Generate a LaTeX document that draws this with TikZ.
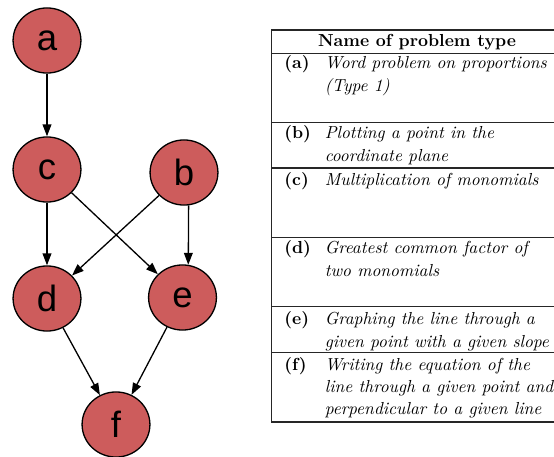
\documentclass[tikz,border=0pt]{standalone}
\usepackage{fontspec}
\newfontfamily\nodefont{Liberation Sans}
\usetikzlibrary{shapes.geometric,arrows.meta}
\definecolor{nodered}{RGB}{205,92,92}
\begin{document}
\begin{tikzpicture}[x=0.5747pt,y=-0.5747pt,
  gnode/.style={ellipse,draw=black,line width=0.75pt,fill=nodered,minimum width=39pt,minimum height=37.4pt,inner sep=0pt,font=\nodefont\fontsize{21}{25}\selectfont},
  edge/.style={draw,line width=0.75pt,-{Triangle[length=6.8pt,width=5pt]}},
  rowlabel/.style={anchor=base west,inner sep=0pt,font=\fontsize{10}{12}\selectfont\bfseries},
  rowtext/.style={anchor=base west,inner sep=0pt,font=\fontsize{10}{12}\selectfont\itshape},
  headtext/.style={anchor=base,inner sep=0pt,font=\fontsize{10}{12}\selectfont\bfseries},
  rule/.style={line width=0.65pt,draw=black!85}]
\useasboundingbox (0,0) rectangle (554,457);
% graph
\node[gnode] (a) at (47,40.5) {a};
\node[gnode] (c) at (47,169.5) {c};
\node[gnode] (b) at (184,172.5) {b};
\node[gnode] (d) at (47,298.5) {d};
\node[gnode] (e) at (182.5,297.5) {e};
\node[gnode] (f) at (116,424.5) {f};
\draw[edge] (a) -- (c);
\draw[edge] (c) -- (d);
\draw[edge] (c) -- (e);
\draw[edge] (b) -- (d);
\draw[edge] (b.-82) -- (e.80);
\draw[edge] (d) -- (f);
\draw[edge] (e) -- (f);
% table rules
\coordinate (tl) at (271.3,30);
\coordinate (bl) at (271.3,422.3);
\draw[rule,line width=0.9pt] (tl) -- (554,30);
\draw[rule] (271.3,53.5) -- (554,53.5);
\draw[rule] (271.3,122.5) -- (554,122.5);
\draw[rule] (271.3,168) -- (554,168);
\draw[rule] (271.3,237.5) -- (554,237.5);
\draw[rule] (271.3,306.5) -- (554,306.5);
\draw[rule] (271.3,352.5) -- (554,352.5);
\draw[rule,line width=1.1pt] (bl) -- (554,422.3);
\draw[rule] (tl) -- (bl);
% header
\node[headtext] (hd) at (417,46) {Name of problem type};
% rows
\node[rowlabel] (la) at (284,68) {(a)};
\node[rowtext] (ta1) at (324.5,68) {Word problem on proportions};
\node[rowtext] (ta2) at (324.5,91) {(Type 1)};
\node[rowlabel] (lb) at (284,138) {(b)};
\node[rowtext] (tb1) at (324.5,138) {Plotting a point in the};
\node[rowtext] (tb2) at (324.5,161) {coordinate plane};
\node[rowlabel] (lc) at (284,185) {(c)};
\node[rowtext] (tc1) at (324.5,185) {Multiplication of monomials};
\node[rowlabel] (ld) at (284,253) {(d)};
\node[rowtext] (td1) at (324.5,253) {Greatest common factor of};
\node[rowtext] (td2) at (324.5,276) {two monomials};
\node[rowlabel] (le) at (284,324) {(e)};
\node[rowtext] (te1) at (324.5,324) {Graphing the line through a};
\node[rowtext] (te2) at (324.5,347) {given point with a given slope};
\node[rowlabel] (lf) at (284,370) {(f)};
\node[rowtext] (tf1) at (324.5,370) {Writing the equation of the};
\node[rowtext] (tf2) at (324.5,392) {line through a given point and};
\node[rowtext] (tf3) at (324.5,414) {perpendicular to a given line};
\end{tikzpicture}
\end{document}
